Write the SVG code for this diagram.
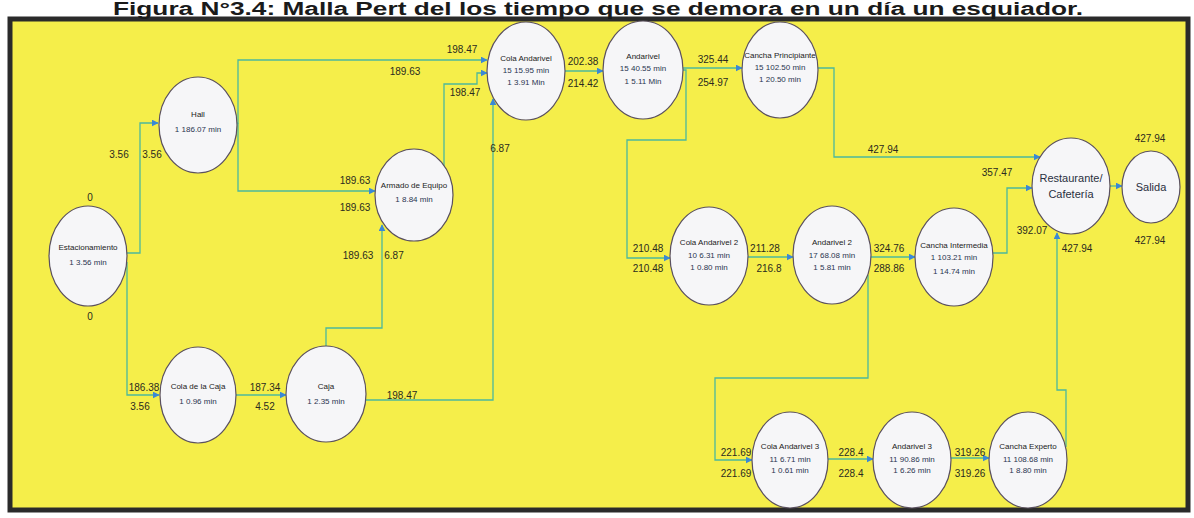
<svg xmlns="http://www.w3.org/2000/svg" width="1194" height="518" viewBox="0 0 1194 518">
<style>
.title{font-family:"Liberation Sans",Arial,sans-serif;font-weight:bold;font-size:18px;fill:#1a1a1a}
.nd ellipse{fill:#f6f6f8;stroke:#5a5060;stroke-width:1.2}
.nm{font-family:"Liberation Sans",Arial,sans-serif;font-size:8px;fill:#222;text-anchor:middle}
.dt{font-family:"Liberation Sans",Arial,sans-serif;font-size:8px;fill:#2a3550;text-anchor:middle}
.big{font-family:"Liberation Sans",Arial,sans-serif;font-size:11px;fill:#2a3040;text-anchor:middle}
.lb{font-family:"Liberation Sans",Arial,sans-serif;font-size:10px;fill:#2a2a20;text-anchor:middle}
.cn path{fill:none;stroke:#4cb89c;stroke-width:1.3;marker-end:url(#ah)}
</style>
<defs>
<marker id="ah" viewBox="0 0 10 10" refX="9" refY="5" markerWidth="7" markerHeight="7" markerUnits="userSpaceOnUse" orient="auto">
<path d="M0,0 L10,5 L0,10 z" fill="#3a88d6"/>
</marker>
</defs>
<rect width="1194" height="518" fill="#ffffff"/>
<rect x="10" y="19" width="1178" height="491" fill="#f5ee4a" stroke="#2a2a2a" stroke-width="5"/>
<text class="title" x="598" y="15" textLength="970" lengthAdjust="spacingAndGlyphs" text-anchor="middle">Figura N°3.4: Malla Pert del los tiempo que se demora en un día un esquiador.</text>

<g id="connectors" class="cn">
<path d="M127,253 H140 V123 H158"/>
<path d="M127,262 V395 H159"/>
<path d="M237,123 H238 V60 H487"/>
<path d="M238,123 V191 H375"/>
<path d="M236,395 H286"/>
<path d="M326,346 V328 H382 V225"/>
<path d="M366,400 H493 V99"/>
<path d="M444,166 V84 H477 V73 H487"/>
<path d="M565,71 H603"/>
<path d="M683,68 H742"/>
<path d="M683,70 H686 V140 H627 V258 H670"/>
<path d="M818,68 H834 V157 H1040"/>
<path d="M748,257 H793"/>
<path d="M871,257 H915"/>
<path d="M868,275 V378 H715 V460 H752"/>
<path d="M993,253 H1007 V188 H1032"/>
<path d="M828,459 H873"/>
<path d="M951,458 H989"/>
<path d="M1066,447 V390 H1057 V233"/>
<path d="M1110,186 H1122"/>
</g>

<g id="n-estacionamiento" class="nd"><ellipse cx="88" cy="256" rx="39" ry="50"/><text class="nm" x="88" y="250">Estacionamiento</text><text class="dt" x="88" y="265">1 3.56 min</text></g>
<g id="n-hall" class="nd"><ellipse cx="198" cy="125" rx="39" ry="48"/><text class="nm" x="198" y="117">Hall</text><text class="dt" x="198" y="132">1 186.07 min</text></g>
<g id="n-colacaja" class="nd"><ellipse cx="198" cy="395" rx="38" ry="48"/><text class="nm" x="198" y="389">Cola de la Caja</text><text class="dt" x="198" y="404">1 0.96 min</text></g>
<g id="n-caja" class="nd"><ellipse cx="326" cy="394" rx="40" ry="48"/><text class="nm" x="326" y="389">Caja</text><text class="dt" x="326" y="404">1 2.35 min</text></g>
<g id="n-armado" class="nd"><ellipse cx="414" cy="195" rx="39" ry="46"/><text class="nm" x="414" y="188">Armado de Equipo</text><text class="dt" x="414" y="202">1 8.84 min</text></g>
<g id="n-colaandarivel" class="nd"><ellipse cx="526" cy="71" rx="39" ry="49"/><text class="nm" x="526" y="61">Cola Andarivel</text><text class="dt" x="526" y="73">15 15.95 min</text><text class="dt" x="526" y="85">1 3.91 Min</text></g>
<g id="n-andarivel" class="nd"><ellipse cx="643" cy="70" rx="40" ry="49"/><text class="nm" x="643" y="59">Andarivel</text><text class="dt" x="643" y="71">15 40.55 min</text><text class="dt" x="643" y="84">1 5.11 Min</text></g>
<g id="n-principiante" class="nd"><ellipse cx="780" cy="70" rx="38" ry="48"/><text class="nm" x="780" y="58">Cancha Principiante</text><text class="dt" x="780" y="70">15 102.50 min</text><text class="dt" x="780" y="82">1 20.50 min</text></g>
<g id="n-colaandarivel2" class="nd"><ellipse cx="709" cy="256" rx="39" ry="49"/><text class="nm" x="709" y="245">Cola Andarivel 2</text><text class="dt" x="709" y="258">10 6.31 min</text><text class="dt" x="709" y="270">1 0.80 min</text></g>
<g id="n-andarivel2" class="nd"><ellipse cx="832" cy="255" rx="39" ry="49"/><text class="nm" x="832" y="245">Andarivel 2</text><text class="dt" x="832" y="258">17 68.08 min</text><text class="dt" x="832" y="270">1 5.81 min</text></g>
<g id="n-intermedia" class="nd"><ellipse cx="954" cy="257" rx="39" ry="49"/><text class="nm" x="954" y="248">Cancha Intermedia</text><text class="dt" x="954" y="260">1 103.21 min</text><text class="dt" x="954" y="274">1 14.74 min</text></g>
<g id="n-restaurante" class="nd"><ellipse cx="1071" cy="186" rx="39" ry="48"/><text class="big" x="1071" y="182">Restaurante/</text><text class="big" x="1071" y="198">Cafetería</text></g>
<g id="n-salida" class="nd"><ellipse cx="1151" cy="187" rx="29" ry="36"/><text class="big" x="1151" y="191">Salida</text></g>
<g id="n-colaandarivel3" class="nd"><ellipse cx="790" cy="460" rx="38" ry="48"/><text class="nm" x="790" y="449">Cola Andarivel 3</text><text class="dt" x="790" y="462">11 6.71 min</text><text class="dt" x="790" y="473">1 0.61 min</text></g>
<g id="n-andarivel3" class="nd"><ellipse cx="912" cy="460" rx="39" ry="48"/><text class="nm" x="912" y="449">Andarivel 3</text><text class="dt" x="912" y="462">11 90.86 min</text><text class="dt" x="912" y="473">1 6.26 min</text></g>
<g id="n-experto" class="nd"><ellipse cx="1028" cy="460" rx="39" ry="48"/><text class="nm" x="1028" y="449">Cancha Experto</text><text class="dt" x="1028" y="462">11 108.68 min</text><text class="dt" x="1028" y="473">1 8.80 min</text></g>

<g id="labels" class="lb">
<text x="90" y="201">0</text><text x="90" y="320">0</text>
<text x="119" y="158">3.56</text><text x="152" y="158">3.56</text>
<text x="144" y="391">186.38</text><text x="140" y="410">3.56</text>
<text x="265" y="391">187.34</text><text x="265" y="410">4.52</text>
<text x="402" y="399">198.47</text>
<text x="355" y="184">189.63</text><text x="355" y="211">189.63</text>
<text x="358" y="259">189.63</text><text x="394" y="259">6.87</text>
<text x="462" y="53">198.47</text><text x="405" y="75">189.63</text><text x="465" y="96">198.47</text><text x="500" y="152">6.87</text>
<text x="583" y="65">202.38</text><text x="583" y="87">214.42</text>
<text x="713" y="63">325.44</text><text x="713" y="86">254.97</text>
<text x="883" y="153">427.94</text>
<text x="997" y="176">357.47</text>
<text x="1032" y="234">392.07</text><text x="1077" y="252">427.94</text>
<text x="1150" y="142">427.94</text><text x="1150" y="244">427.94</text>
<text x="648" y="252">210.48</text><text x="648" y="272">210.48</text>
<text x="765" y="252">211.28</text><text x="769" y="272">216.8</text>
<text x="889" y="252">324.76</text><text x="889" y="272">288.86</text>
<text x="736" y="456">221.69</text><text x="736" y="477">221.69</text>
<text x="851" y="456">228.4</text><text x="851" y="477">228.4</text>
<text x="970" y="456">319.26</text><text x="970" y="477">319.26</text>
</g>
</svg>
